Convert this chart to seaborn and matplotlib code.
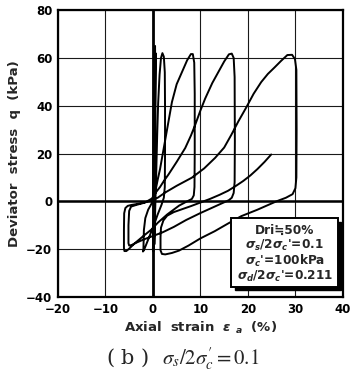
import matplotlib
matplotlib.use("Agg")
import matplotlib.pyplot as plt
import seaborn as sns
import pandas as pd
from matplotlib.patches import Rectangle

sns.set_theme(style="white")
plt.rcParams['font.family'] = ['DejaVu Sans', 'Noto Sans CJK JP']
plt.rcParams['mathtext.fontset'] = 'custom'
plt.rcParams['mathtext.rm'] = 'DejaVu Sans:bold'
plt.rcParams['mathtext.it'] = 'DejaVu Sans:italic:bold'
plt.rcParams['mathtext.bf'] = 'DejaVu Sans:bold'

# ---- data (axial strain %, deviator stress kPa) ----
init_e = [0.0, 0.1, 0.2, 0.3, 0.35, 0.3, 0.15, 0.0, 0.1, 0.25, 0.35, 0.45, 0.5, 0.4, 0.2, 0.1, 0.25, 0.4, 0.5, 0.55, 0.5, 0.35, 0.3, 0.45]
init_q = [0, 25, 55, 64, 45, 5, -12, -20, -10, 15, 50, 65, 55, 10, -15, -21, -5, 25, 55, 62, 30, -5, -18, -5]

l1_e = [0.55, 0.7, 0.9, 1.1, 1.4, 1.7, 2.0, 2.3, 2.5, 2.55, 2.55, 2.5, 2.3]
l1_q = [2, 12, 28, 41, 53, 60, 62, 60.5, 54, 40, 20, 6, 1.5]
u1_e = [1.8, 1.0, 0.2, -0.7, -1.4, -1.9, -2.1, -2.0, -1.95, -1.9, -1.6, -1.0, -0.3, 0.3]
u1_q = [-1.5, -5.5, -10, -14.5, -18, -20.5, -21, -20, -16, -12, -7, -3.5, -1, 1.5]

l2_e = [0.6, 1.0, 1.5, 1.9, 2.5, 3.0, 3.5, 4.0, 5.0, 6.1, 7.2, 8.0, 8.4, 8.7, 8.8, 8.8, 8.75, 8.6, 8.2]
l2_q = [5, 9, 13.5, 18, 25, 30.5, 36, 41.5, 49, 54, 59, 61.6, 61.6, 58, 45, 20, 6, 2.5, 1]
u2_e = [7.0, 5.5, 3.0, 1.0, -0.2, -2.0, -3.8, -5.0, -5.6, -6.0, -6.1, -6.1, -6.05, -5.8, -5.3, -4.5, -3.0, -1.5, -0.2, 0.6]
u2_q = [-0.2, -1.8, -5.5, -9, -11.6, -14.5, -17.5, -19.8, -20.8, -20.8, -19.5, -12, -5, -2.8, -1.9, -1.5, -1.0, -0.3, 1.2, 3.7]

l3_e = [1.5, 2.3, 3.3, 5.0, 6.8, 8.0, 8.9, 10.0, 11.0, 12.5, 13.75, 15.0, 16.0, 16.6, 17.0, 17.2, 17.25, 17.2, 17.0, 16.6]
l3_q = [6.0, 8.5, 11.3, 16.5, 22.3, 27.5, 32, 38, 43, 49.5, 54, 58.5, 61.5, 61.8, 60, 52, 25, 8, 3.5, 1.5]
u3_e = [16.0, 13.0, 10.0, 7.0, 4.4, 2.0, 0.0, -2.0, -3.5, -4.5, -5.0, -5.15, -5.15, -5.0, -4.6, -3.5, -2.0, -0.5, 1.0]
u3_q = [0.5, -2.2, -4.9, -7.8, -10.7, -13, -14.5, -16, -17.3, -18.3, -18.5, -17.5, -10, -4, -2.2, -1.5, -0.7, 0.3, 1.5]

l4_e = [2.6, 5.0, 8.2, 10.8, 13.1, 15.0, 16.5, 18.0, 19.6, 21.2, 22.8, 24.2, 25.6, 27.0, 28.3, 29.3, 29.9, 30.2, 30.25, 30.2, 30.0, 29.4]
l4_q = [3.7, 6.5, 9.9, 13.8, 18.2, 22.5, 27.8, 33.5, 39.1, 45, 49.9, 53.3, 56, 58.8, 61.2, 61.3, 59.5, 55, 30, 10, 5.5, 3]
u4_e = [28.0, 26.0, 22.0, 18.6, 15.8, 13.0, 10.0, 7.5, 5.5, 4.0, 2.6, 1.9, 1.6, 1.6, 1.7]
u4_q = [1.5, 0, -3.5, -6.2, -9.3, -12.5, -15.5, -18.5, -20.6, -21.6, -22.2, -22, -20.5, -15, -11]

l5_e = [2.2, 3.0, 4.4, 6.0, 8.0, 10.0, 12.0, 14.0, 15.8, 17.5, 19.0, 20.5, 22.0, 23.5, 24.9]
l5_q = [-8, -6, -4.5, -3.4, -2, -0.5, 1, 2.7, 4.4, 6.5, 8.5, 10.8, 13.5, 16.5, 19.6]

x_ticks = [-20, -10, 0, 10, 20, 30, 40]
y_ticks = [-40, -20, 0, 20, 40, 60, 80]

legend_lines = ["Dri≒50%",
                r"$\sigma_s$/2$\sigma_c$'=0.1",
                r"$\sigma_c$'=100kPa",
                r"$\sigma_d$/2$\sigma_c$'=0.211"]

strain = init_e + l1_e + u1_e + l2_e + u2_e + l3_e + u3_e + l4_e + u4_e + l5_e
stress = init_q + l1_q + u1_q + l2_q + u2_q + l3_q + u3_q + l4_q + u4_q + l5_q
df = pd.DataFrame({"strain": strain, "q": stress, "order": range(len(strain))})

fig = plt.figure(figsize=(3.51, 3.74), dpi=100)
ax = fig.add_axes([0.165, 0.206, 0.812, 0.767])

ax.set_xlim(-20, 40)
ax.set_ylim(-40, 80)
ax.set_xticks(x_ticks)
ax.set_yticks(y_ticks)
ax.grid(True, color='#1a1a1a', lw=0.8, ls='-')
ax.set_axisbelow(True)
ax.axhline(0, color='black', lw=1.8, zorder=2)
ax.axvline(0, color='black', lw=2.0, zorder=2)

sns.lineplot(data=df, x="strain", y="q", sort=False, estimator=None,
             color='black', lw=1.4, ax=ax, zorder=3)

for s in ax.spines.values():
    s.set_color('black')
    s.set_linewidth(1.6)
ax.tick_params(length=0, pad=4, labelsize=8.5, colors='black')
for lab in ax.get_xticklabels() + ax.get_yticklabels():
    lab.set_fontweight('bold')

ax.set_xlabel(r"Axial  strain  $\varepsilon$ $_a$  (%)", fontsize=9.5, fontweight='bold', labelpad=3)
ax.set_ylabel("Deviator  stress  q  (kPa)", fontsize=9.5, fontweight='bold', labelpad=4)

# legend box with drop shadow
bx0, by0, bw, bh = 0.609, 0.035, 0.373, 0.239
ax.add_patch(Rectangle((bx0 + 0.012, by0 - 0.012), bw, bh, transform=ax.transAxes,
                       facecolor='black', edgecolor='black', zorder=5))
ax.add_patch(Rectangle((bx0, by0), bw, bh, transform=ax.transAxes,
                       facecolor='white', edgecolor='black', lw=1.4, zorder=6))
ys = [0.232, 0.178, 0.124, 0.070]
for t, yy in zip(legend_lines, ys):
    ax.text(bx0 + bw / 2, yy, t, transform=ax.transAxes, ha='center', va='center',
            fontsize=8.7, fontweight='bold', zorder=7,
            family=['DejaVu Sans', 'Noto Sans CJK JP'])

fig.text(0.52, 0.042, r"( b )  $\mathbf{\it{\sigma_s}}/2\sigma^{\prime}_{c} = 0.1$", ha='center', va='center',
         fontsize=15, math_fontfamily='stix', family='serif')

fig.savefig("out.png", dpi=100)
